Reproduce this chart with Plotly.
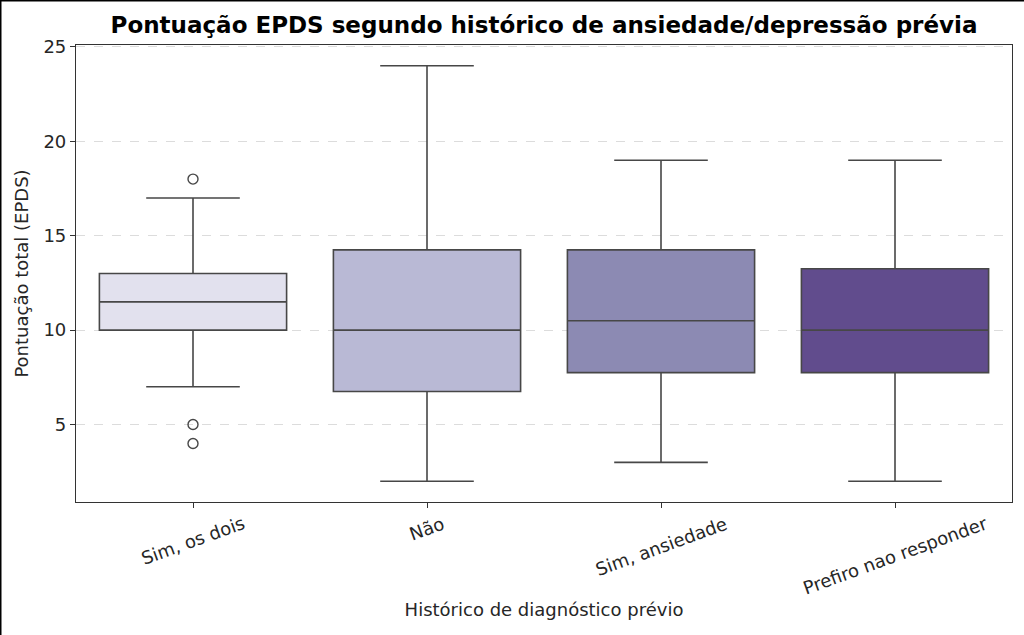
import plotly.graph_objects as go

# ---------------------------------------------------------------------------
# Data
# ---------------------------------------------------------------------------

categories = ["Sim, os dois", "Não", "Sim, ansiedade", "Prefiro nao responder"]
q1 = [10.0, 6.75, 7.75, 7.75]
median = [11.5, 10.0, 10.5, 10.0]
q3 = [13.0, 14.25, 14.25, 13.25]
lower_fence = [7, 2, 3, 2]
upper_fence = [17, 24, 19, 19]

outlier_cat = ["Sim, os dois", "Sim, os dois", "Sim, os dois"]
outlier_val = [18, 5, 4]

y_ticks = [5, 10, 15, 20, 25]

colors = ["#e2e1ee", "#b9b9d5", "#8c8ab3", "#614c8d"]
LINE = "#474747"
FONT = "DejaVu Sans"
TXT = 18

W, H = 1024, 635
ML, MR, MT, MB = 76, 12, 45, 133

fig = go.Figure()

for i, cat in enumerate(categories):
    fig.add_trace(go.Box(
        x=[cat],
        q1=[q1[i]],
        median=[median[i]],
        q3=[q3[i]],
        lowerfence=[lower_fence[i]],
        upperfence=[upper_fence[i]],
        fillcolor=colors[i],
        line=dict(color=LINE, width=1.6),
        whiskerwidth=0.5,
        boxpoints=False,
        showlegend=False,
        hoverinfo="skip",
    ))

fig.add_trace(go.Scatter(
    x=outlier_cat,
    y=outlier_val,
    mode="markers",
    marker=dict(symbol="circle-open", size=10, color=LINE, line=dict(width=1.4)),
    showlegend=False,
    hoverinfo="skip",
))

# rotated category labels, centred under each tick like matplotlib's rotation=20
for cat in categories:
    fig.add_annotation(
        x=cat, xref="x", y=0, yref="paper",
        text=cat, textangle=-20, showarrow=False,
        xanchor="center", yanchor="top", yshift=-8,
        font=dict(family=FONT, size=TXT, color="#262626"),
    )

# thin black frame on top/left edges of the screenshot
pw = W - ML - MR
ph = H - MT - MB
fig.add_shape(type="line", xref="paper", yref="paper",
              x0=-ML / pw, x1=1 + MR / pw, y0=1 + MT / ph - 0.5 / ph, y1=1 + MT / ph - 0.5 / ph,
              line=dict(color="black", width=2))
fig.add_shape(type="line", xref="paper", yref="paper",
              x0=-ML / pw + 0.5 / pw, x1=-ML / pw + 0.5 / pw, y0=-MB / ph, y1=1 + MT / ph,
              line=dict(color="black", width=2))

fig.update_layout(
    width=W, height=H,
    margin=dict(l=ML, r=MR, t=MT, b=MB),
    paper_bgcolor="white",
    plot_bgcolor="white",
    boxmode="overlay",
    boxgap=0.2,
    boxgroupgap=0,
    font=dict(family=FONT, size=TXT, color="#262626"),
    title=dict(
        text="<b>Pontuação EPDS segundo histórico de ansiedade/depressão prévia</b>",
        x=(ML + pw / 2) / W, xanchor="center",
        y=1 - 25 / H, yanchor="middle",
        font=dict(family=FONT, size=23, color="black"),
    ),
    xaxis=dict(
        type="category",
        categoryorder="array",
        categoryarray=categories,
        showticklabels=False,
        ticks="outside", ticklen=5, tickcolor="#333333",
        showgrid=False,
        showline=True, mirror=True, linecolor="#333333", linewidth=1.2,
        title=dict(text="Histórico de diagnóstico prévio", standoff=96,
                   font=dict(family=FONT, size=TXT, color="#262626")),
        zeroline=False,
    ),
    yaxis=dict(
        range=[0.9, 25.1],
        tickvals=y_ticks,
        ticks="outside", ticklen=5, tickcolor="#333333",
        tickfont=dict(family=FONT, size=TXT, color="#262626"),
        showgrid=True, gridcolor="#dcdcdc", griddash="dash", gridwidth=1,
        showline=True, mirror=True, linecolor="#333333", linewidth=1.2,
        zeroline=False,
        title=dict(text="Pontuação total (EPDS)", standoff=10,
                   font=dict(family=FONT, size=TXT, color="#262626")),
    ),
)

# drop the browser's default body margin so the figure sits at the page origin
fig.write_html("out.html", config={"displayModeBar": False},
               post_script="document.body.style.margin='0';")
